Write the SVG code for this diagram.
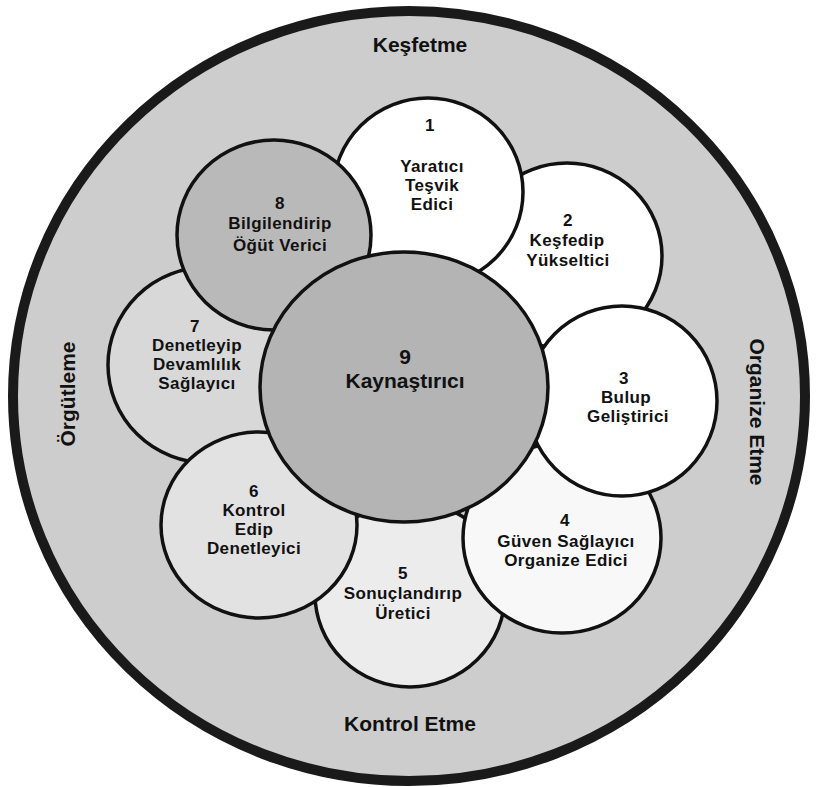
<svg xmlns="http://www.w3.org/2000/svg" width="816" height="787" viewBox="0 0 816 787">
<style>
.c{stroke:#111;stroke-width:3.5}
text{font-family:"Liberation Sans",Arial,sans-serif;font-weight:bold;fill:#111;text-anchor:middle}
.t{font-size:17px;letter-spacing:0.4px}
.o{font-size:21px}
.k{font-size:21px}
</style>
<rect width="816" height="787" fill="#ffffff"/>
<g id="outer">
<ellipse cx="409" cy="396" rx="396" ry="385" fill="#cdcdcd" stroke="#1a1a1a" stroke-width="10"/>
<text class="o" x="420" y="52">Keşfetme</text>
<text class="o" x="410" y="731">Kontrol Etme</text>
<text class="o" transform="translate(75,394) rotate(-90)">Örgütleme</text>
<text class="o" transform="translate(750,412) rotate(90)">Organize Etme</text>
</g>
<g id="connectors"></g>
<g id="n2"><ellipse class="c" cx="567" cy="256" rx="95" ry="93" fill="#ffffff"/>
<text class="t" x="568" y="226">2</text><text class="t" x="567" y="246">Keşfedip</text><text class="t" x="568" y="266">Yükseltici</text></g>
<g id="n5"><ellipse class="c" cx="410" cy="594" rx="95" ry="93" fill="#ececec"/>
<text class="t" x="403" y="579">5</text><text class="t" x="403" y="599">Sonuçlandırıp</text><text class="t" x="403" y="619">Üretici</text></g>
<g id="n4"><ellipse class="c" cx="562" cy="538" rx="99" ry="95" fill="#f8f8f8"/>
<text class="t" x="565" y="526">4</text><text class="t" x="566" y="547">Güven Sağlayıcı</text><text class="t" x="566" y="566">Organize Edici</text></g>
<g id="n3"><ellipse class="c" cx="622" cy="401" rx="95" ry="95" fill="#ffffff"/>
<text class="t" x="624" y="384">3</text><text class="t" x="626" y="403">Bulup</text><text class="t" x="628" y="422">Geliştirici</text></g>
<g id="n7"><ellipse class="c" cx="208" cy="365" rx="100" ry="98" fill="#d8d8d8"/>
<text class="t" x="195" y="332">7</text><text class="t" x="197" y="351">Denetleyip</text><text class="t" x="197" y="370">Devamlılık</text><text class="t" x="197" y="389">Sağlayıcı</text></g>
<g id="n6"><ellipse class="c" cx="259" cy="525" rx="98" ry="93" fill="#e2e2e2"/>
<text class="t" x="254" y="497">6</text><text class="t" x="254" y="516">Kontrol</text><text class="t" x="254" y="535">Edip</text><text class="t" x="254" y="554">Denetleyici</text></g>
<g id="n1"><ellipse class="c" cx="428" cy="192" rx="95" ry="94" fill="#ffffff"/>
<text class="t" x="430" y="131">1</text><text class="t" x="432" y="172">Yaratıcı</text><text class="t" x="432" y="191">Teşvik</text><text class="t" x="432" y="210">Edici</text></g>
<g id="n8"><ellipse class="c" cx="274" cy="235" rx="97" ry="95" fill="#b9b9b9"/>
<text class="t" x="280" y="209">8</text><text class="t" x="280" y="229">Bilgilendirip</text><text class="t" x="280" y="251">Öğüt Verici</text></g>
<g id="n9"><ellipse class="c" cx="404" cy="387" rx="144" ry="135" fill="#b4b4b4"/>
<text class="k" x="405" y="364">9</text><text class="k" x="405" y="388">Kaynaştırıcı</text></g>
</svg>
